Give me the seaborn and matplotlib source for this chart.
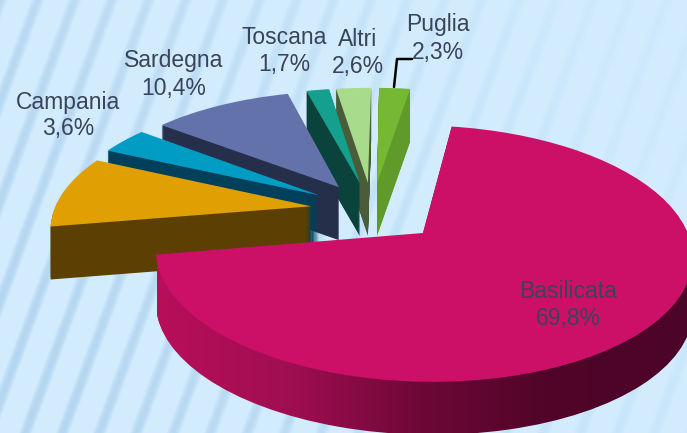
import numpy as np
import matplotlib
matplotlib.use("Agg")
import matplotlib.pyplot as plt
from matplotlib.transforms import Transform, Affine2D
import seaborn as sns

regions = ["Puglia", "Altri", "Toscana", "Sardegna", "Campania", "", "Basilicata"]
shares = [2.3, 2.6, 1.7, 10.4, 3.6, 9.6, 69.8]
shown = ["2,3%", "2,6%", "1,7%", "10,4%", "3,6%", "", "69,8%"]
explode = [0.24, 0.24, 0.24, 0.24, 0.245, 0.24, 0.27]
top_colors = ["#74b834", "#a8dc8c", "#14a08c", "#6472ac", "#009cc4", "#e0a004", "#cc1068"]
wall_colors = ["#5f9a2a", "#4a5c38", "#0a433c", "#262f4a", "#00405a", "#5c3f02", "#500428"]
wall_gradient = ["#b80f5a", "#a00e52", "#6d0836", "#500428", "#4c0428"]
label_px = [(438, 25), (358, 39), (284, 38), (174, 61), (68, 102), (0, 0), (568, 292)]

W, H = 687, 433
CX, CY = 372, 210      # pixel of the pie's common centre
SX, SY = 257, 117.6    # pixels per radius on screen
TILT = 0.156           # foreshortening of the far side
DEPTH = 53             # wall height in pixels

sns.set_theme(style="white")
plt.rcParams["font.family"] = ["Liberation Sans", "DejaVu Sans"]


class Perspective(Transform):
    input_dims = output_dims = 2
    is_separable = False
    has_inverse = False

    def transform_non_affine(self, values):
        values = np.asarray(values, dtype=float)
        w = 1 + TILT * values[:, 1]
        return np.column_stack([values[:, 0] / w, values[:, 1] / w])


fig = plt.figure(figsize=(W / 100, H / 100), dpi=100)
ax = fig.add_axes([0, 0, 1, 1])
xlim = (-CX / SX, (W - CX) / SX)
ylim = (-(H - CY) / SY, CY / SY)

# striped pale-blue backdrop, stripes fading to the upper right
yy, xx = np.mgrid[0:H, 0:W]
phase = (xx + 0.37 * yy) / 37.0
stripe = np.clip((np.cos(2 * np.pi * phase) - 0.35) / 0.65, 0, 1)
fade = np.clip(1.0 - 0.85 * (xx / W) + 0.25 * (yy / H) - 0.15, 0.15, 1)
base = np.array(matplotlib.colors.to_rgb("#d2ecfe"))
dark = np.array(matplotlib.colors.to_rgb("#b4d6f0"))
back = base + (dark - base) * (stripe * fade)[..., None]
ax.imshow(back, extent=(xlim[0], xlim[1], ylim[0], ylim[1]), origin="upper",
          aspect="auto", zorder=-5)

wall_cmap = sns.blend_palette(wall_gradient, as_cmap=True)
ramp = np.linspace(0, 1, 256)[None, :]
ramp_extent = ((157 - CX) / SX, (W - CX) / SX, ylim[0], ylim[1])
persp = Perspective()
big = len(shares) - 1

for d in range(DEPTH, -1, -1):
    colors = top_colors if d == 0 else wall_colors
    wedges, _ = ax.pie(shares, explode=explode, startangle=81, colors=colors,
                       radius=1, counterclock=True)
    shift = Affine2D().translate(0, -d / SY)
    tf = persp + shift + ax.transData
    for i, w in enumerate(wedges):
        w.set_transform(tf)
        w.set_clip_on(False)
        w.set_linewidth(0)
        w.set_zorder(i * 1000 + DEPTH - d)
    if d > 0:
        wedges[big].set_visible(False)
        im = ax.imshow(ramp, extent=ramp_extent, cmap=wall_cmap, aspect="auto",
                       zorder=big * 1000 + DEPTH - d + 0.5)
        im.set_clip_path(wedges[big])

ax.set_aspect("auto")
ax.set_xlim(*xlim)
ax.set_ylim(*ylim)
ax.axis("off")

text_color = "#3a4458"
for name, pct, (px, py) in zip(regions, shown, label_px):
    if not name:
        continue
    for line, off in ((name, 0), (pct, 27)):
        fig.text(px / W, 1 - (py + off) / H, line, ha="center", va="center",
                 fontsize=16.5, color=text_color, zorder=20000)

# Puglia leader line
fig.add_artist(plt.Line2D(np.array([412, 397, 394]) / W,
                          1 - np.array([59, 59, 87]) / H,
                          color="black", lw=1.8))

fig.savefig("out.png", dpi=100)
